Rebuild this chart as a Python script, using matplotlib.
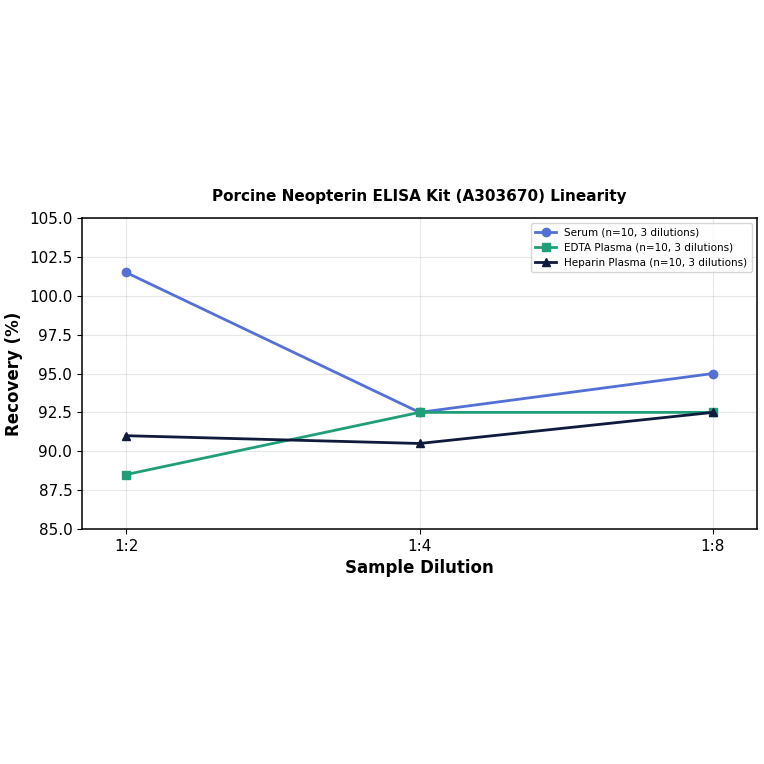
import matplotlib
matplotlib.use("Agg")
import matplotlib.pyplot as plt

dilutions = ["1:2", "1:4", "1:8"]
serum = [101.5, 92.5, 95.0]
edta = [88.5, 92.5, 92.5]
heparin = [91.0, 90.5, 92.5]
labels = ["Serum (n=10, 3 dilutions)", "EDTA Plasma (n=10, 3 dilutions)", "Heparin Plasma (n=10, 3 dilutions)"]
yticks = [85.0, 87.5, 90.0, 92.5, 95.0, 97.5, 100.0, 102.5, 105.0]

fig = plt.figure(figsize=(7.64, 7.64), dpi=100)
ax = fig.add_axes([82/764, 1-529/764, 675/764, 311/764])
x = list(range(len(dilutions)))
ax.plot(x, serum, color="#5470d6", marker="o", lw=2, ms=6, label=labels[0])
ax.plot(x, edta, color="#1f9e77", marker="s", lw=2, ms=6, label=labels[1])
ax.plot(x, heparin, color="#0f1a3c", marker="^", lw=2, ms=6, label=labels[2])
ax.set_xlim(-0.15, 2.15)
ax.set_ylim(85, 105)
ax.set_xticks(x)
ax.set_xticklabels(dilutions)
ax.set_yticks(yticks)
ax.set_yticklabels([f"{v:.1f}" for v in yticks])
ax.tick_params(labelsize=11)
for s in ax.spines.values():
    s.set_linewidth(1.1)
ax.grid(True, alpha=0.3)
ax.set_xlabel("Sample Dilution", fontsize=12, fontweight="bold")
ax.set_ylabel("Recovery (%)", fontsize=12, fontweight="bold")
ax.set_title("Porcine Neopterin ELISA Kit (A303670) Linearity", fontsize=11, fontweight="bold", pad=12)
ax.legend(loc="upper right", fontsize=7.5)
fig.savefig("out.png", dpi=100)
